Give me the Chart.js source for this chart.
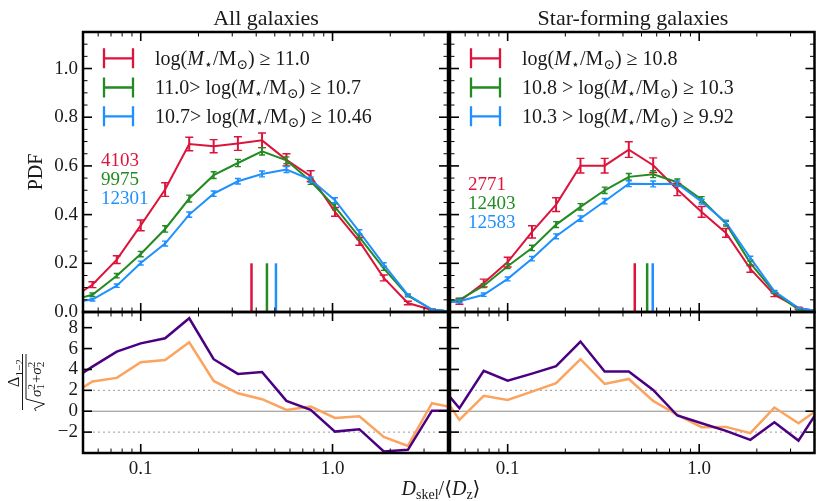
<!DOCTYPE html>
<html>
<head>
<meta charset="utf-8">
<script src="https://cdn.jsdelivr.net/npm/chart.js@4.4.1/dist/chart.umd.min.js"></script>
<style>
  html, body { margin: 0; padding: 0; background: #fff; }
  #wrap { position: relative; width: 816px; height: 501px; }
  #wrap canvas { position: absolute; left: 0; top: 0; }
</style>
</head>
<body>
<div id="wrap">
  <canvas id="pdfAll" width="816" height="501"></canvas>
  <canvas id="pdfSf" width="816" height="501"></canvas>
  <canvas id="sigAll" width="816" height="501"></canvas>
  <canvas id="sigSf" width="816" height="501"></canvas>
</div>
<script>
// bin centres in D_skel/<D_z> (log spaced)
const binCentres = [0.042, 0.056, 0.075, 0.100, 0.134, 0.179, 0.240, 0.321, 0.429,
                    0.575, 0.769, 1.03, 1.38, 1.85, 2.47, 3.30, 4.42];

// all galaxies: PDF per mass bin and 1-sigma errors
const allHigh    = [0.048, 0.112, 0.215, 0.356, 0.503, 0.690, 0.681, 0.692, 0.705, 0.625, 0.558, 0.411, 0.290, 0.140, 0.037, 0.008, 0.0];
const allHighErr = [0.010, 0.012, 0.016, 0.022, 0.028, 0.028, 0.027, 0.028, 0.030, 0.025, 0.022, 0.018, 0.016, 0.012, 0.007, 0.004, 0.002];
const allMid     = [0.045, 0.071, 0.149, 0.238, 0.341, 0.466, 0.562, 0.612, 0.660, 0.623, 0.537, 0.432, 0.308, 0.179, 0.067, 0.010, 0.0];
const allMidErr  = [0.006, 0.007, 0.009, 0.011, 0.013, 0.014, 0.014, 0.015, 0.015, 0.014, 0.013, 0.012, 0.010, 0.008, 0.005, 0.002, 0.001];
const allLow     = [0.040, 0.051, 0.108, 0.201, 0.281, 0.400, 0.486, 0.537, 0.567, 0.585, 0.544, 0.459, 0.329, 0.195, 0.070, 0.010, 0.0];
const allLowErr  = [0.005, 0.006, 0.007, 0.008, 0.010, 0.011, 0.011, 0.011, 0.012, 0.012, 0.011, 0.010, 0.009, 0.007, 0.004, 0.002, 0.001];

// star-forming galaxies
const sfHigh     = [0.040, 0.044, 0.119, 0.205, 0.329, 0.441, 0.601, 0.601, 0.667, 0.603, 0.503, 0.411, 0.325, 0.177, 0.071, 0.016, 0.0];
const sfHighErr  = [0.010, 0.012, 0.016, 0.020, 0.025, 0.028, 0.030, 0.030, 0.032, 0.030, 0.025, 0.022, 0.018, 0.014, 0.008, 0.004, 0.002];
const sfMid      = [0.037, 0.050, 0.108, 0.188, 0.263, 0.359, 0.432, 0.500, 0.555, 0.566, 0.533, 0.462, 0.363, 0.201, 0.081, 0.010, 0.0];
const sfMidErr   = [0.006, 0.007, 0.008, 0.010, 0.011, 0.012, 0.013, 0.013, 0.014, 0.014, 0.013, 0.012, 0.010, 0.008, 0.005, 0.002, 0.001];
const sfLow      = [0.035, 0.044, 0.071, 0.136, 0.219, 0.311, 0.384, 0.455, 0.527, 0.526, 0.527, 0.453, 0.368, 0.222, 0.085, 0.016, 0.0];
const sfLowErr   = [0.005, 0.006, 0.007, 0.008, 0.009, 0.010, 0.011, 0.011, 0.012, 0.012, 0.011, 0.010, 0.009, 0.007, 0.004, 0.002, 0.001];

// medians of each mass bin
const allMedians = [0.378, 0.455, 0.507];
const sfMedians  = [0.461, 0.535, 0.572];

// significance of the differences (high-low, mid-low)
const sigAllHighLow = [2.8, 4.27, 5.71, 6.5, 6.99, 8.9, 4.98, 3.57, 3.76, 0.99, 0.13, -1.95, -1.72, -3.86, -3.7, 0.05, 0.05];
const sigAllMidLow  = [1.4, 2.84, 3.19, 4.69, 4.91, 6.6, 2.9, 1.72, 1.15, 0.13, 0.45, -0.64, -0.48, -2.46, -3.32, 0.77, 0.3];
const sigSfHighLow  = [3.0, 0.29, 3.86, 2.93, 3.6, 4.31, 6.67, 3.8, 3.8, 2.04, -0.41, -1.15, -1.88, -2.74, -1.05, -2.81, 0.77];
const sigSfMidLow   = [2.6, -0.83, 1.47, 1.08, 1.88, 2.68, 4.98, 2.62, 3.09, 0.99, -0.35, -1.53, -1.5, -2.1, 0.35, -1.15, 0.5];

// axes
const X_MIN = 0.05, X_MAX = 4;
const xLabelTicks = [0.1, 1.0];
const pdfRange = [0, 1.15], pdfMajor = 0.2, pdfMinor = 0.05;
const sigRange = [-4, 9.5], sigMajor = 2, sigLabelTicks = [-2, 0, 2, 4, 6, 8];
const sigGuides = [-2, 0, 2];
const MEDIAN_HEIGHT = 0.2;

const titles = ['All galaxies', 'Star-forming galaxies'];
const allCounts = ['4103', '9975', '12301'];
const sfCounts  = ['2771', '12403', '12583'];
const mstar = [['M', 'i'], ['⋆', 's'], ['/M'], ['⊙', 's']];
const allLegend = [
  [['log('], ...mstar, [') ≥ 11.0']],
  [['11.0> log('], ...mstar, [') ≥ 10.7']],
  [['10.7> log('], ...mstar, [') ≥ 10.46']]
];
const sfLegend = [
  [['log('], ...mstar, [') ≥ 10.8']],
  [['10.8 > log('], ...mstar, [') ≥ 10.3']],
  [['10.3 > log('], ...mstar, [') ≥ 9.92']]
];

const RED = '#dc143c', GREEN = '#228b22', BLUE = '#1e90ff';
const PURPLE = '#4b0082', ORANGE = '#fba35f';
const massColours = [RED, GREEN, BLUE];
const SERIF = "'Liberation Serif', 'DejaVu Serif', serif";
const INK = '#1a1a1a';

const pts = ys => binCentres.map((x, i) => ({ x, y: ys[i] }));
const isDecade = v => Math.abs(Math.log10(v) - Math.round(Math.log10(v))) < 1e-6;
const isMultiple = (v, s) => Math.abs(v / s - Math.round(v / s)) < 1e-6;

// text with italic / sub / superscript pieces
function drawRich(ctx, parts, x, y, size, color, align) {
  const pieces = parts.map(([t, st = '']) => {
    const small = st.includes('s') || st.includes('p');
    const font = `${st.includes('i') ? 'italic ' : ''}${small ? size * 0.7 : size}px ${SERIF}`;
    ctx.font = font;
    const dy = st.includes('s') ? size * 0.22 : st.includes('p') ? -size * 0.38 : 0;
    return { t, font, dy, w: ctx.measureText(t).width };
  });
  const total = pieces.reduce((a, p) => a + p.w, 0);
  let cx = align === 'center' ? x - total / 2 : align === 'right' ? x - total : x;
  ctx.fillStyle = color;
  ctx.textAlign = 'left';
  ctx.textBaseline = 'alphabetic';
  pieces.forEach(p => { ctx.font = p.font; ctx.fillText(p.t, cx, y + p.dy); cx += p.w; });
  return total;
}

function drawErrKey(ctx, x0, x1, yc, color) {
  ctx.strokeStyle = color;
  ctx.lineWidth = 2.3;
  ctx.beginPath();
  ctx.moveTo(x0, yc); ctx.lineTo(x1, yc);
  ctx.moveTo(x0, yc - 10); ctx.lineTo(x0, yc + 10);
  ctx.moveTo(x1, yc - 10); ctx.lineTo(x1, yc + 10);
  ctx.stroke();
}

function drawLegend(ctx, rows, keyX, textX, counts, countX, countY) {
  const rowY = [58.3, 87.5, 116.3];
  rows.forEach((parts, i) => {
    drawErrKey(ctx, keyX, keyX + 29, rowY[i], massColours[i]);
    drawRich(ctx, parts, textX, rowY[i] + 6.5, 20, INK, 'left');
  });
  ctx.font = `19px ${SERIF}`;
  ctx.textAlign = 'left';
  ctx.textBaseline = 'middle';
  counts.forEach((c, i) => {
    ctx.fillStyle = massColours[i];
    ctx.fillText(c, countX, countY + i * 19);
  });
}

function drawTitle(ctx, text, cx) {
  ctx.font = `22px ${SERIF}`;
  ctx.fillStyle = INK;
  ctx.textAlign = 'center';
  ctx.textBaseline = 'alphabetic';
  ctx.fillText(text, cx, 25);
}

// inward ticks on all four sides plus the box
const frameTicks = {
  id: 'frameTicks',
  afterDraw(chart, args, opts) {
    const { ctx, chartArea: a, scales: { x, y } } = chart;
    const seg = (x0, y0, x1, y1, w) => {
      ctx.lineWidth = w;
      ctx.beginPath(); ctx.moveTo(x0, y0); ctx.lineTo(x1, y1); ctx.stroke();
    };
    ctx.save();
    ctx.strokeStyle = '#000';
    x.ticks.forEach(t => {
      const px = x.getPixelForValue(t.value);
      if (px <= a.left + 1.5 || px >= a.right - 1.5) return;
      const major = isDecade(t.value);
      const len = major ? 9 : 4.5;
      seg(px, a.bottom, px, a.bottom - len, major ? 1.6 : 1);
      seg(px, a.top, px, a.top + len, major ? 1.6 : 1);
    });
    y.ticks.forEach(t => {
      const py = y.getPixelForValue(t.value);
      if (py <= a.top + 1.5 || py >= a.bottom - 1.5) return;
      if (!isMultiple(t.value, opts.minor)) return;
      const major = isMultiple(t.value, opts.major);
      const len = major ? 9 : 4.5;
      seg(a.left, py, a.left + len, py, major ? 1.6 : 1);
      seg(a.right, py, a.right - len, py, major ? 1.6 : 1);
    });
    ctx.lineWidth = 2.5;
    ctx.strokeRect(a.left, a.top, a.right - a.left, a.bottom - a.top);
    ctx.restore();
  }
};

// vertical error bars with caps, from each dataset's errors array
const errorBars = {
  id: 'errorBars',
  afterDatasetsDraw(chart) {
    const { ctx, chartArea: a, scales: { x, y } } = chart;
    ctx.save();
    ctx.beginPath();
    ctx.rect(a.left, a.top, a.right - a.left, a.bottom - a.top);
    ctx.clip();
    chart.data.datasets.forEach(ds => {
      if (!ds.errors) return;
      ctx.strokeStyle = ds.borderColor;
      ds.data.forEach((p, i) => {
        const px = x.getPixelForValue(p.x);
        const lo = y.getPixelForValue(p.y - ds.errors[i]);
        const hi = y.getPixelForValue(p.y + ds.errors[i]);
        ctx.lineWidth = 2;
        ctx.beginPath(); ctx.moveTo(px, lo); ctx.lineTo(px, hi); ctx.stroke();
        ctx.lineWidth = 1.4;
        ctx.beginPath();
        ctx.moveTo(px - ds.capHalf, lo); ctx.lineTo(px + ds.capHalf, lo);
        ctx.moveTo(px - ds.capHalf, hi); ctx.lineTo(px + ds.capHalf, hi);
        ctx.stroke();
      });
    });
    ctx.restore();
  }
};

function xAxis(showLabels, height) {
  return {
    type: 'logarithmic', min: X_MIN, max: X_MAX,
    grid: { display: false, drawTicks: false }, border: { display: false },
    afterBuildTicks: s => { s.ticks = s.ticks.filter(t => isMultiple(t.value / Math.pow(10, Math.floor(Math.log10(t.value) + 1e-9)), 1)); },
    ticks: {
      display: showLabels, autoSkip: false, maxRotation: 0, minRotation: 0, padding: 5,
      color: INK, font: { family: SERIF, size: 19 },
      callback: v => (xLabelTicks.some(l => Math.abs(l - v) < 1e-9) ? Number(v).toFixed(1) : '')
    },
    afterFit: s => { s.height = height; s.paddingLeft = 0; s.paddingRight = 0; }
  };
}

function yAxis(range, step, showLabels, width, labelFn) {
  return {
    type: 'linear', min: range[0], max: range[1],
    grid: { display: false, drawTicks: false }, border: { display: false },
    ticks: {
      display: showLabels, stepSize: step, autoSkip: false, padding: 5, includeBounds: false,
      color: INK, font: { family: SERIF, size: 19 },
      callback: labelFn
    },
    afterFit: s => { s.width = width; s.paddingTop = 0; s.paddingBottom = 0; }
  };
}

const pdfLabel = v => (isMultiple(v, pdfMajor) && v <= 1.0001 ? Number(v).toFixed(1) : '');
const sigLabel = v => (sigLabelTicks.includes(Math.round(v * 1000) / 1000) ? String(v).replace('-', '−') : '');

function pdfDataset(ys, errs, color, capHalf, order) {
  return { data: pts(ys), errors: errs, capHalf, borderColor: color, backgroundColor: color,
           borderWidth: 2, pointRadius: 0, order, clip: 0 };
}
function medianDataset(x, color) {
  return { data: [{ x, y: 0 }, { x, y: MEDIAN_HEIGHT }], borderColor: color, borderWidth: 2.5,
           pointRadius: 0, order: 5, clip: 0 };
}
function sigDataset(ys, color, order) {
  return { data: pts(ys), borderColor: color, borderWidth: 2.5, pointRadius: 0, order, clip: 0 };
}
function guideDataset(v) {
  return { data: [{ x: X_MIN, y: v }, { x: X_MAX, y: v }], borderColor: v === 0 ? '#8c8c8c' : '#9a9a9a',
           borderWidth: 1, borderDash: v === 0 ? [] : [2, 3], pointRadius: 0, order: 10, clip: 0 };
}

function baseOptions(padding, scales, ticksCfg, extra) {
  return {
    responsive: false, animation: false, devicePixelRatio: 1,
    layout: { padding, autoPadding: false },
    scales,
    plugins: { legend: { display: false }, tooltip: { enabled: false }, frameTicks: ticksCfg, ...extra },
    events: []
  };
}

// top-left: PDFs, all galaxies
new Chart(document.getElementById('pdfAll'), {
  type: 'line',
  data: { datasets: [
    pdfDataset(allHigh, allHighErr, RED, 4, 3),
    pdfDataset(allMid, allMidErr, GREEN, 3, 2),
    pdfDataset(allLow, allLowErr, BLUE, 3, 1),
    ...allMedians.map((m, i) => medianDataset(m, massColours[i]))
  ] },
  options: baseOptions({ left: 43, top: 32, right: 368, bottom: 189 },
    { x: xAxis(false, 0), y: yAxis(pdfRange, pdfMinor, true, 40, pdfLabel) },
    { major: pdfMajor, minor: pdfMinor }),
  plugins: [errorBars, frameTicks, {
    id: 'pdfAllText',
    afterDraw(chart) {
      const ctx = chart.ctx;
      ctx.save();
      drawTitle(ctx, titles[0], 266);
      drawLegend(ctx, allLegend, 104, 155, allCounts, 101, 161);
      ctx.translate(37, 172);
      ctx.rotate(-Math.PI / 2);
      ctx.font = `20px ${SERIF}`;
      ctx.fillStyle = INK;
      ctx.textAlign = 'center';
      ctx.textBaseline = 'middle';
      ctx.fillText('PDF', 0, 0);
      ctx.restore();
    }
  }]
});

// top-right: PDFs, star-forming galaxies
new Chart(document.getElementById('pdfSf'), {
  type: 'line',
  data: { datasets: [
    pdfDataset(sfHigh, sfHighErr, RED, 4, 3),
    pdfDataset(sfMid, sfMidErr, GREEN, 3, 2),
    pdfDataset(sfLow, sfLowErr, BLUE, 3, 1),
    ...sfMedians.map((m, i) => medianDataset(m, massColours[i]))
  ] },
  options: baseOptions({ left: 450, top: 32, right: 1.5, bottom: 189 },
    { x: xAxis(false, 0), y: yAxis(pdfRange, pdfMinor, false, 0, pdfLabel) },
    { major: pdfMajor, minor: pdfMinor }),
  plugins: [errorBars, frameTicks, {
    id: 'pdfSfText',
    afterDraw(chart) {
      const ctx = chart.ctx;
      ctx.save();
      drawTitle(ctx, titles[1], 633);
      drawLegend(ctx, sfLegend, 471, 522, sfCounts, 468, 185);
      ctx.restore();
    }
  }]
});

// bottom-left: significance, all galaxies
new Chart(document.getElementById('sigAll'), {
  type: 'line',
  data: { datasets: [
    sigDataset(sigAllHighLow, PURPLE, 0),
    sigDataset(sigAllMidLow, ORANGE, 1),
    ...sigGuides.map(guideDataset)
  ] },
  options: baseOptions({ left: 43, top: 312, right: 368, bottom: 8 },
    { x: xAxis(true, 40), y: yAxis(sigRange, sigMajor, true, 40, sigLabel) },
    { major: sigMajor, minor: sigMajor }),
  plugins: [frameTicks, {
    id: 'sigAllText',
    afterDraw(chart) {
      const ctx = chart.ctx;
      ctx.save();
      // x label
      drawRich(ctx, [['D', 'i'], ['skel', 's'], ['/⟨'], ['D', 'i'], ['z', 's'], ['⟩']], 441, 495, 20, INK, 'center');
      // y label: Delta_{1-2} / sqrt(sigma1^2 + sigma2^2), rotated
      ctx.translate(25, 382);
      ctx.rotate(-Math.PI / 2);
      drawRich(ctx, [['Δ'], ['1−2', 's']], 9, -6, 16, INK, 'center');
      ctx.strokeStyle = INK;
      ctx.lineWidth = 1;
      ctx.beginPath(); ctx.moveTo(-28, -2.5); ctx.lineTo(28, -2.5); ctx.stroke();
      ctx.beginPath();
      ctx.moveTo(-29, 11); ctx.lineTo(-26.5, 9.5); ctx.lineTo(-22, 19.5);
      ctx.lineTo(-17, 1); ctx.lineTo(28, 1);
      ctx.stroke();
      let cx = -15;
      const bl = 16;
      const sigmaTerm = (sub) => {
        ctx.font = `italic 15px ${SERIF}`;
        ctx.fillText('σ', cx, bl);
        cx += ctx.measureText('σ').width;
        ctx.font = `11px ${SERIF}`;
        ctx.fillText('2', cx, bl - 6.5);
        ctx.fillText(sub, cx, bl + 3);
        cx += ctx.measureText('2').width + 1;
      };
      ctx.fillStyle = INK;
      ctx.textAlign = 'left';
      ctx.textBaseline = 'alphabetic';
      sigmaTerm('1');
      ctx.font = `15px ${SERIF}`;
      ctx.fillText('+', cx, bl);
      cx += ctx.measureText('+').width;
      sigmaTerm('2');
      ctx.restore();
    }
  }]
});

// bottom-right: significance, star-forming galaxies
new Chart(document.getElementById('sigSf'), {
  type: 'line',
  data: { datasets: [
    sigDataset(sigSfHighLow, PURPLE, 0),
    sigDataset(sigSfMidLow, ORANGE, 1),
    ...sigGuides.map(guideDataset)
  ] },
  options: baseOptions({ left: 450, top: 312, right: 1.5, bottom: 8 },
    { x: xAxis(true, 40), y: yAxis(sigRange, sigMajor, false, 0, sigLabel) },
    { major: sigMajor, minor: sigMajor }),
  plugins: [frameTicks]
});
</script>
</body>
</html>
